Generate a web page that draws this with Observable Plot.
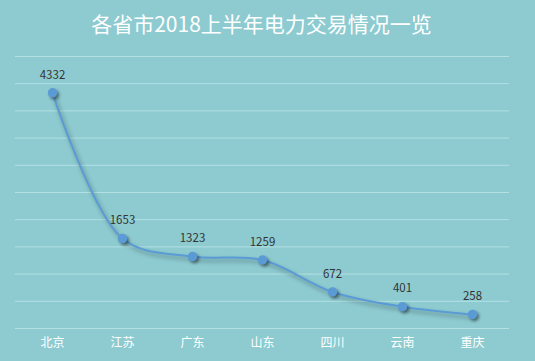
<!DOCTYPE html>
<html><head><meta charset="utf-8">
<script src="https://cdn.jsdelivr.net/npm/d3@7"></script>
<script src="https://cdn.jsdelivr.net/npm/@observablehq/plot@0.6"></script>
<style>
html,body{margin:0;padding:0;background:#8dcbd1;width:535px;height:361px;overflow:hidden;}
#title{height:46px;line-height:46px;text-align:center;color:#fff;font-family:"Noto Sans CJK SC","Noto Sans",sans-serif;font-size:21px;padding-right:12px;}
#chart svg{background:transparent;display:block;}
#chart g[aria-label="line"] path{filter:drop-shadow(2px 3px 2px rgba(0,0,0,0.35));}
#chart g[aria-label="dot"] circle{filter:drop-shadow(2px 2px 1.5px rgba(0,0,0,0.45));}
</style></head>
<body>
<div id="title">各省市2018上半年电力交易情况一览</div>
<div id="chart"></div>
<script>
const provinces = ["北京","江苏","广东","山东","四川","云南","重庆"];
const volumes = [4332,1653,1323,1259,672,401,258];
const yTicks = [0,500,1000,1500,2000,2500,3000,3500,4000,4500,5000];

const data = provinces.map((p,i)=>({province:p, value:volumes[i]}));

const chart = Plot.plot({
  width:535, height:315,
  marginLeft:15, marginRight:26, marginTop:10, marginBottom:33,
  style:{background:"transparent", fontFamily:"'Noto Sans CJK SC','Noto Sans',sans-serif"},
  x:{type:"band", domain:provinces, padding:0, label:null},
  y:{domain:[0,5000], label:null, axis:null},
  marks:[
    Plot.ruleY(yTicks, {stroke:"#b3e0e3", strokeWidth:1}),
    Plot.axisX({tickSize:0, tickPadding:10, fontSize:12, color:"#ffffff", label:null}),
    Plot.line(data, {x:"province", y:"value", curve:"catmull-rom", stroke:"#5b9bd5", strokeWidth:2}),
    Plot.dot(data, {x:"province", y:"value", r:4, fill:"#5b9bd5", stroke:"#5b9bd5"}),
    Plot.text(data, {x:"province", y:"value", text:d=>String(d.value), dy:-18, fill:"#333333", fontSize:11.5})
  ]
});
document.getElementById("chart").appendChild(chart);
</script>
</body></html>
